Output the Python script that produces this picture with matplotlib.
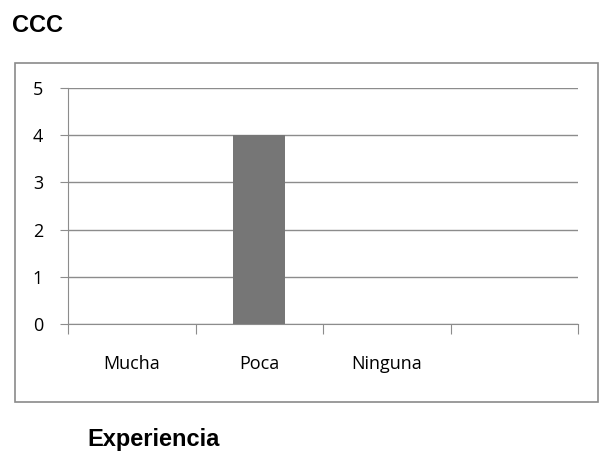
import matplotlib.pyplot as plt
from matplotlib.patches import Rectangle

categorias = ["Mucha", "Poca", "Ninguna", ""]
valores = [0, 4, 0, 0]
yticks = [0, 1, 2, 3, 4, 5]

W, H = 599, 453
fig = plt.figure(figsize=(W / 100, H / 100), dpi=100)

# marco exterior del grafico
fig.patches.append(Rectangle((15 / W, 1 - 402 / H), 583 / W, 339 / H,
                             transform=fig.transFigure, fill=False,
                             edgecolor="#8a8a8a", linewidth=1.2))

ax = fig.add_axes([68 / W, 1 - 324 / H, 510 / W, 236 / H])
x = list(range(len(categorias)))
ax.bar(x, valores, width=0.41, color="#767676", zorder=3)

ax.set_xlim(-0.5, len(categorias) - 0.5)
ax.set_ylim(0, 5)
ax.set_yticks(yticks)
ax.grid(axis="y", color="#8c8c8c", linewidth=1.0, zorder=0)

ax.set_xticks([i - 0.5 for i in range(len(categorias) + 1)])
ax.set_xticklabels([])
ax.set_xticks(x, minor=True)
ax.set_xticklabels(categorias, minor=True, fontsize=13, family="Open Sans")
ax.tick_params(axis="x", which="minor", length=0, pad=22)
ax.tick_params(axis="x", which="major", length=7, color="#8c8c8c")
ax.tick_params(axis="y", length=6, color="#8c8c8c", labelsize=13, pad=12)
for lab in ax.get_yticklabels():
    lab.set_family("Open Sans")

for s in ["top", "right"]:
    ax.spines[s].set_visible(False)
for s in ["left", "bottom"]:
    ax.spines[s].set_color("#8c8c8c")

fig.text(12 / W, 1 - 32 / H, "CCC", fontsize=17, fontweight="bold",
         family="Liberation Sans", va="baseline")
fig.text(87 / W, 1 - 446 / H, "Experiencia", fontsize=17, fontweight="bold",
         family="Liberation Sans", va="baseline")

fig.savefig("out.png", dpi=100)
